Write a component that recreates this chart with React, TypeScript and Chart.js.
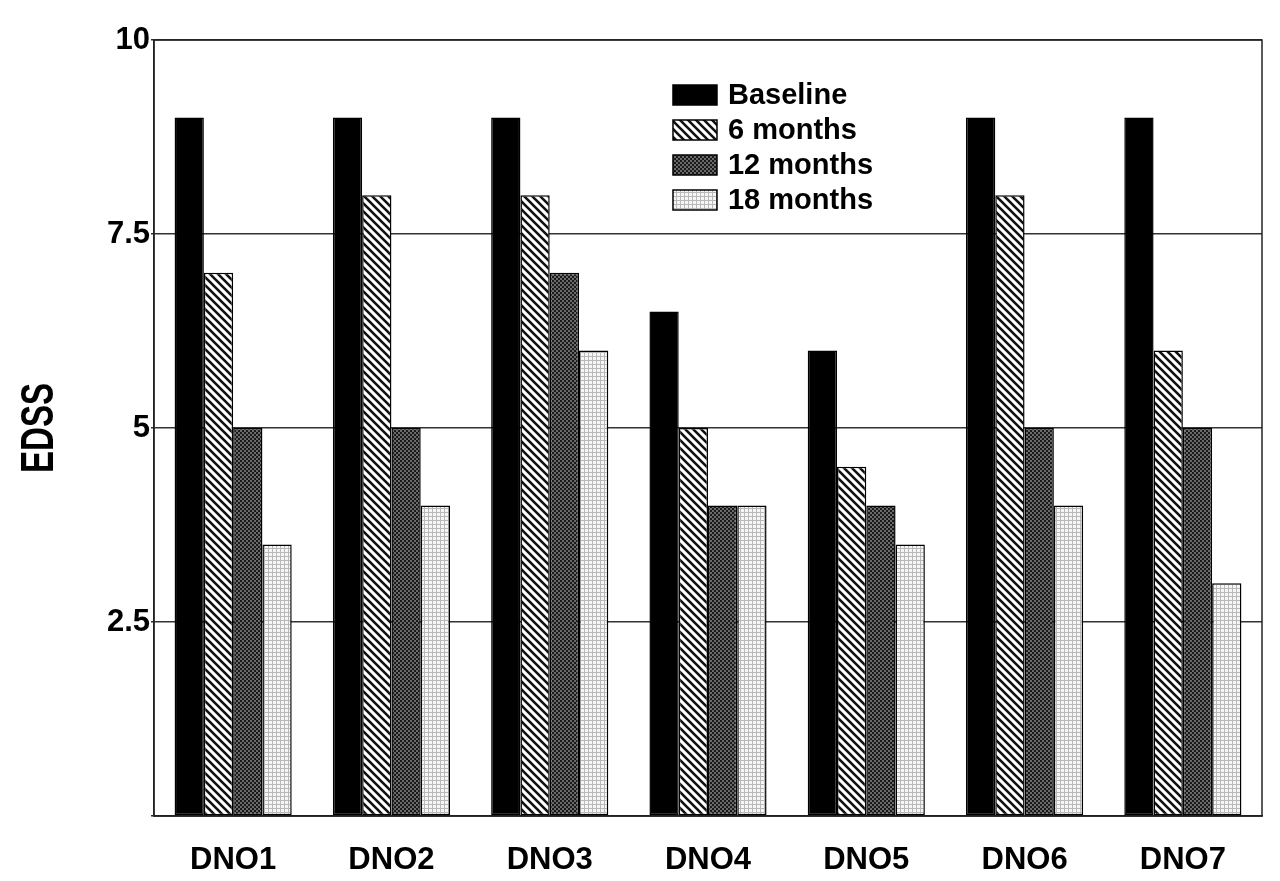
import React, { useEffect, useRef } from "react";
import { Chart, registerables } from "chart.js";

Chart.register(...registerables);

const categories = ["DNO1", "DNO2", "DNO3", "DNO4", "DNO5", "DNO6", "DNO7"];
const seriesNames = ["Baseline", "6 months", "12 months", "18 months"];
const baseline = [9, 9, 9, 6.5, 6, 9, 9];
const months6 = [7, 8, 8, 5, 4.5, 8, 6];
const months12 = [5, 5, 7, 4, 4, 5, 5];
const months18 = [3.5, 4, 6, 4, 3.5, 4, 3];
const yTicks = [2.5, 5, 7.5, 10];
const yTitle = "EDSS";

const FONT = "'Liberation Sans', Arial, Helvetica, sans-serif";

function makeTile(size: number, draw: (c: CanvasRenderingContext2D) => void) {
  const cv = document.createElement("canvas");
  cv.width = size;
  cv.height = size;
  const c = cv.getContext("2d")!;
  draw(c);
  return cv;
}

function makePatterns(ctx: CanvasRenderingContext2D) {
  const hatch = makeTile(8, (c) => {
    c.fillStyle = "#fff";
    c.fillRect(0, 0, 8, 8);
    c.strokeStyle = "#111";
    c.lineWidth = 2.6;
    c.beginPath();
    c.moveTo(-2, -2);
    c.lineTo(10, 10);
    c.moveTo(-2, 6);
    c.lineTo(2, 10);
    c.moveTo(6, -2);
    c.lineTo(10, 2);
    c.stroke();
  });
  const dark = makeTile(4, (c) => {
    c.fillStyle = "#6a6a6a";
    c.fillRect(0, 0, 4, 4);
    c.fillStyle = "#1a1a1a";
    c.fillRect(0, 0, 2, 2);
    c.fillRect(2, 2, 2, 2);
  });
  const light = makeTile(4, (c) => {
    c.fillStyle = "#f6f6f6";
    c.fillRect(0, 0, 4, 4);
    c.fillStyle = "#b8b8b8";
    c.fillRect(0, 0, 4, 1);
    c.fillRect(0, 0, 1, 4);
  });
  return [
    "#000",
    ctx.createPattern(hatch, "repeat")!,
    ctx.createPattern(dark, "repeat")!,
    ctx.createPattern(light, "repeat")!,
  ];
}

export default function App() {
  const ref = useRef<HTMLCanvasElement | null>(null);

  useEffect(() => {
    document.body.style.margin = "0";
    const canvas = ref.current!;
    const ctx = canvas.getContext("2d")!;
    const fills = makePatterns(ctx);
    const seriesValues = [baseline, months6, months12, months18];

    const framePlugin = {
      id: "frame",
      afterDraw(chart: any) {
        const { ctx: c, chartArea: a } = chart;
        c.save();
        c.strokeStyle = "#222";
        c.lineWidth = 1.5;
        c.strokeRect(a.left, a.top, a.right - a.left, a.bottom - a.top);
        c.restore();
      },
    };

    const titlePlugin = {
      id: "yTitle",
      afterDraw(chart: any) {
        const { ctx: c, chartArea: a } = chart;
        c.save();
        c.translate(chart.scales.y.left + 40, (a.top + a.bottom) / 2);
        c.rotate(-Math.PI / 2);
        c.scale(0.72, 1);
        c.font = `bold 46px ${FONT}`;
        c.fillStyle = "#000";
        c.textAlign = "center";
        c.textBaseline = "middle";
        c.fillText(yTitle, 0, 0);
        c.restore();
      },
    };

    const legendPlugin = {
      id: "customLegend",
      afterDraw(chart: any) {
        const { ctx: c, chartArea: a } = chart;
        const w = a.right - a.left;
        const x0 = a.left + w * 0.4684;
        const y0 = a.top + 55;
        const rowH = 35;
        c.save();
        c.font = `bold 29px ${FONT}`;
        c.textBaseline = "middle";
        seriesNames.forEach((name, i) => {
          const yc = y0 + i * rowH;
          c.fillStyle = fills[i] as any;
          c.fillRect(x0, yc - 10, 44, 20);
          c.strokeStyle = "#000";
          c.lineWidth = 1.5;
          c.strokeRect(x0, yc - 10, 44, 20);
          c.fillStyle = "#000";
          c.fillText(name, x0 + 55, yc + 1);
        });
        c.restore();
      },
    };

    const chart = new Chart(canvas, {
      type: "bar",
      data: {
        labels: categories,
        datasets: seriesNames.map((name, i) => ({
          label: name,
          data: seriesValues[i],
          backgroundColor: fills[i] as any,
          borderColor: "#000",
          borderWidth: 1.5,
          borderSkipped: false,
          categoryPercentage: 0.74,
          barPercentage: 1.0,
        })),
      },
      options: {
        animation: false,
        responsive: false,
        maintainAspectRatio: false,
        layout: { padding: { top: 40, right: 18, left: 0, bottom: 0 } },
        plugins: {
          legend: { display: false },
          tooltip: { enabled: false },
        },
        scales: {
          x: {
            grid: { display: false },
            border: { display: true, color: "#222", width: 1.5 },
            ticks: {
              color: "#000",
              font: { family: FONT, size: 31, weight: "bold" },
              padding: 18,
            },
            afterFit(scale: any) {
              scale.height = 65;
            },
          },
          y: {
            min: 0,
            max: 10,
            z: 1,
            afterBuildTicks(scale: any) {
              scale.ticks = [0, ...yTicks].map((v) => ({ value: v }));
            },
            ticks: {
              color: "#000",
              font: { family: FONT, size: 31, weight: "bold" },
              padding: 1,
              callback: (v: any) => (v === 0 ? "" : String(v)),
            },
            grid: {
              color: "#333",
              lineWidth: 1.5,
              drawTicks: true,
              tickLength: 3,
            },
            border: { display: true, color: "#222", width: 1.5 },
            afterFit(scale: any) {
              scale.width = 154;
            },
          },
        },
      },
      plugins: [framePlugin, titlePlugin, legendPlugin],
    });
    return () => chart.destroy();
  }, []);

  return (
    <div style={{ width: 1280, height: 881, background: "#fff" }}>
      <canvas ref={ref} width={1280} height={881} style={{ display: "block" }} />
    </div>
  );
}
